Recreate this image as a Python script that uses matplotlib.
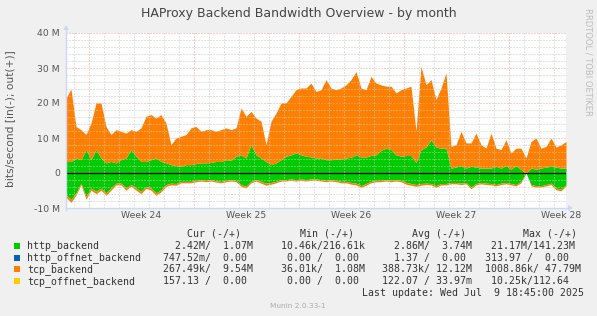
import numpy as np
import matplotlib
matplotlib.use("Agg")
import matplotlib.pyplot as plt
from matplotlib.patches import Rectangle, Polygon
from matplotlib.lines import Line2D

W, H, DPI = 597, 316, 100

# ---------------- data (Mbit/s, one sample every 8 hours) ----------------
# time in days relative to Monday of week 24 (2025-06-09)
t_start = -23 / 15.0
n = 101
t = t_start + np.arange(n) / 3.0

http_out = [3.3, 3.3, 4.3, 3.8, 6.7, 3.8, 6.7, 4.3, 2.9, 3.3, 2.9, 3.8, 4.3, 6.7, 4.8, 3.3, 3.3,
            3.8, 4.3, 3.3, 2.9, 2.4, 2.1, 1.9, 2.4, 2.4, 2.7, 2.9, 2.9, 3.0, 3.3, 3.3, 3.8, 3.6,
            4.8, 5.2, 4.3, 8.1, 5.2, 4.3, 3.3, 2.4, 2.9, 3.8, 4.8, 5.2, 5.7, 5.2, 4.8, 4.6, 4.3,
            4.3, 3.8, 3.8, 4.0, 4.0, 4.3, 4.5, 5.2, 4.6, 4.6, 5.0, 5.2, 6.5, 7.1, 6.7, 5.2, 4.8,
            5.0, 5.0, 3.0, 6.7, 7.4, 9.5, 7.4, 7.1, 7.1, 1.4, 1.7, 2.1, 1.4, 1.9, 1.7, 1.4, 1.4,
            1.4, 1.9, 1.4, 2.1, 1.1, 2.1, 1.0, 0.0, 1.4, 1.1, 1.4, 1.7, 1.9, 1.7, 1.4, 1.4]
tcp_out = [18.1, 20.7, 9.0, 8.6, 4.3, 10.5, 13.3, 15.7, 10.4, 7.7, 9.5, 8.1, 7.1, 5.7, 7.1, 9.6, 12.9,
           12.9, 11.4, 13.4, 11.4, 5.7, 7.9, 8.6, 8.6, 10.5, 10.6, 9.0, 9.5, 9.4, 8.6, 9.1, 9.1, 8.8,
           8.1, 13.4, 11.9, 9.5, 10.5, 10.5, 4.8, 12.4, 14.2, 16.2, 15.2, 16.7, 18.1, 19.1, 19.5, 21.1, 19.0,
           19.5, 22.9, 20.5, 19.8, 20.3, 20.9, 22.2, 23.8, 19.7, 19.2, 22.6, 20.5, 18.7, 17.7, 18.1, 17.7, 19.0,
           19.3, 19.8, 9.0, 23.8, 17.8, 17.2, 13.6, 17.2, 21.5, 6.2, 6.4, 9.8, 7.2, 6.7, 9.7, 6.7, 5.7,
           10.0, 5.2, 5.3, 7.4, 4.6, 5.0, 6.1, 4.3, 7.6, 8.9, 5.7, 5.9, 8.1, 5.7, 6.7, 7.6]
http_in = [6.2, 7.6, 5.7, 2.9, 6.7, 4.3, 5.2, 4.3, 5.7, 4.3, 2.9, 2.9, 4.3, 3.3, 4.3, 5.2, 3.8,
           4.3, 5.7, 4.8, 3.3, 2.9, 3.0, 2.4, 2.4, 2.4, 2.1, 1.9, 2.1, 1.9, 2.2, 2.4, 2.1, 1.9,
           2.1, 3.3, 3.8, 2.4, 1.9, 2.4, 2.9, 2.7, 2.4, 1.9, 1.9, 1.7, 1.9, 1.7, 1.9, 1.7, 1.7,
           1.9, 2.1, 1.9, 2.1, 2.4, 2.4, 2.7, 2.9, 3.6, 3.0, 2.4, 2.1, 2.1, 1.9, 2.1, 1.9, 2.1,
           2.7, 3.0, 3.3, 3.0, 2.9, 3.0, 3.6, 3.0, 3.0, 2.7, 2.7, 2.9, 2.7, 4.0, 3.0, 2.7, 2.9,
           3.0, 3.3, 2.9, 2.7, 3.0, 3.3, 2.4, 0.0, 3.3, 3.6, 3.6, 3.3, 2.9, 4.3, 4.6, 3.3]
tcp_in = [0.8, 0.8, 0.6, 0.5, 0.8, 0.6, 0.7, 0.6, 0.7, 0.6, 0.5, 0.5, 0.6, 0.5, 0.6, 0.7, 0.6,
          0.6, 0.7, 0.6, 0.5, 0.5, 0.5, 0.4, 0.4, 0.4, 0.4, 0.4, 0.4, 0.4, 0.4, 0.4, 0.4, 0.4,
          0.4, 0.5, 0.5, 0.4, 0.4, 0.5, 0.6, 0.5, 0.4, 0.4, 0.4, 0.4, 0.4, 0.4, 0.4, 0.4, 0.4,
          0.4, 0.4, 0.4, 0.4, 0.4, 0.4, 0.5, 0.5, 0.5, 0.5, 0.4, 0.4, 0.4, 0.4, 0.4, 0.4, 0.4,
          0.5, 0.5, 0.5, 0.5, 0.4, 0.4, 0.5, 0.4, 0.4, 0.4, 0.4, 0.4, 0.4, 0.5, 0.4, 0.4, 0.4,
          0.4, 0.4, 0.4, 0.4, 0.4, 0.4, 0.4, 0.0, 0.4, 0.4, 0.4, 0.4, 0.4, 0.5, 0.5, 0.4]
http_offnet_out = [0.0] * n
http_offnet_in = [0.0] * n
tcp_offnet_out = [0.0] * n
tcp_offnet_in = [0.0] * n

week_starts = [0, 7, 14, 21, 28]
week_labels = ["Week 24", "Week 25", "Week 26", "Week 27", "Week 28"]
y_ticks = [-10, 0, 10, 20, 30, 40]
y_labels = ["-10 M", "0", "10 M", "20 M", "30 M", "40 M"]

series_names = ["http_backend", "http_offnet_backend", "tcp_backend", "tcp_offnet_backend"]
series_colors = ["#00CC00", "#0066B3", "#FF8000", "#FFCC00"]
cur_vals = ["  2.42M/  1.07M", "747.52m/  0.00 ", "267.49k/  9.54M", "157.13 /  0.00 "]
min_vals = [" 10.46k/216.61k", "  0.00 /  0.00 ", " 36.01k/  1.08M", "  0.00 /  0.00 "]
avg_vals = ["  2.86M/  3.74M", "  1.37 /  0.00 ", "388.73k/ 12.12M", "122.07 / 33.97m"]
max_vals = [" 21.17M/141.23M", "313.97 /  0.00 ", "1008.86k/ 47.79M", " 10.25k/112.64 "]

title = "HAProxy Backend Bandwidth Overview - by month"
ylabel = "bits/second [in(-); out(+)]"
last_update = "Last update: Wed Jul  9 18:45:00 2025"

# ---------------- figure ----------------
BG = "#F0F0F0"
TXT = "#555555"
fig = plt.figure(figsize=(W / DPI, H / DPI), dpi=DPI, facecolor=BG)

def fx(x):
    return x / W

def fy(y):
    return 1 - y / H

X0, X1, YT, YB = 66, 566, 33, 208
ax = fig.add_axes([fx(X0), fy(YB), (X1 - X0) / W, (YB - YT) / H])
ax.set_facecolor("white")
for s in ax.spines.values():
    s.set_visible(False)

ax.set_xlim(t_start, t_start + (X1 - X0) / 15.0)
ax.set_ylim(-10, 40)

# stacked areas
ho = np.array(http_out); hoo = np.array(http_offnet_out)
to = np.array(tcp_out); too = np.array(tcp_offnet_out)
hi = np.array(http_in); hoi = np.array(http_offnet_in)
ti = np.array(tcp_in); toi = np.array(tcp_offnet_in)

pos = [ho, hoo, to, too]
neg = [hi, hoi, ti, toi]
base_p = np.zeros(n)
base_n = np.zeros(n)
for vals_p, vals_n, c in zip(pos, neg, series_colors):
    top = base_p + vals_p
    ax.fill_between(t, base_p, top, color=c, lw=0, zorder=2)
    base_p = top
    bot = base_n - vals_n
    ax.fill_between(t, bot, base_n, color=c, lw=0, zorder=2)
    base_n = bot

# grid (drawn on top like rrdtool)
days = np.arange(-1, 32)
for d in days:
    if d in week_starts:
        continue
    ax.axvline(d, color="#c8c8c8", lw=0.72, ls=(0, (1, 2)), zorder=3)
for v in np.arange(-10, 41, 2):
    if v % 10 == 0:
        continue
    ax.axhline(v, color="#c8c8c8", lw=0.72, ls=(0, (1, 2)), zorder=3)
for d in week_starts:
    ax.axvline(d, color="#f0a0a0", lw=0.72, ls=(0, (1, 2)), zorder=3)
for v in y_ticks:
    ax.axhline(v, color="#f0a0a0", lw=0.72, ls=(0, (1, 2)), zorder=3)
ax.axhline(0, color="black", lw=0.9, zorder=4)

ax.set_yticks(y_ticks, y_labels)
ax.set_xticks([w + 3.5 for w in week_starts], week_labels)
ax.tick_params(axis="both", length=0, labelsize=6.7, labelcolor=TXT)
ax.tick_params(axis="y", pad=4.3)
ax.tick_params(axis="x", pad=2.5)
ax.grid(False)

# axes lines with arrows
AX = "#CFD6F8"
fig.add_artist(Line2D([fx(X0), fx(570)], [fy(YB), fy(YB)], color=AX, lw=1.0))
fig.add_artist(Line2D([fx(X0), fx(X0)], [fy(YB + 2), fy(28)], color=AX, lw=1.0))
fig.add_artist(Polygon([[fx(568), fy(YB - 3)], [fx(568), fy(YB + 3)], [fx(573), fy(YB)]],
                       closed=True, transform=fig.transFigure, color=AX, lw=0))
fig.add_artist(Polygon([[fx(X0 - 3), fy(30)], [fx(X0 + 3), fy(30)], [fx(X0), fy(25)]],
                       closed=True, transform=fig.transFigure, color=AX, lw=0))

# texts
fig.text(0.5, fy(13), title, ha="center", va="center", fontsize=9, color="#444444")
fig.text(fx(10), fy(119), ylabel, ha="center", va="center", rotation=90, fontsize=7.7, color=TXT)
fig.text(fx(588), fy(8), "RRDTOOL / TOBI OETIKER", ha="center", va="top", rotation=270,
         fontsize=6.0, color="#bbbbbb")

MONO = "DejaVu Sans Mono"
FS = 7.1
LT = "#333333"
fig.text(fx(187), fy(234), "Cur (-/+)", ha="left", va="center", family=MONO, fontsize=FS, color=LT)
fig.text(fx(300), fy(234), "Min (-/+)", ha="left", va="center", family=MONO, fontsize=FS, color=LT)
fig.text(fx(411.5), fy(234), "Avg (-/+)", ha="left", va="center", family=MONO, fontsize=FS, color=LT)
fig.text(fx(523), fy(234), "Max (-/+)", ha="left", va="center", family=MONO, fontsize=FS, color=LT)

row_y = [245.7, 257.5, 269.4, 281.3]
for i in range(4):
    y = row_y[i]
    fig.add_artist(Rectangle((fx(14), fy(y + 3)), 6 / W, 6 / H, transform=fig.transFigure,
                             facecolor=series_colors[i], edgecolor="none"))
    fig.text(fx(27), fy(y), series_names[i], ha="left", va="center", family=MONO, fontsize=FS, color=LT)
    fig.text(fx(163.3), fy(y), cur_vals[i], ha="left", va="center", family=MONO, fontsize=FS, color=LT)
    fig.text(fx(275), fy(y), min_vals[i], ha="left", va="center", family=MONO, fontsize=FS, color=LT)
    fig.text(fx(381.5), fy(y), avg_vals[i], ha="left", va="center", family=MONO, fontsize=FS, color=LT)
    fig.text(fx(485), fy(y), max_vals[i], ha="left", va="center", family=MONO, fontsize=FS, color=LT)

fig.text(fx(583.5), fy(293), last_update, ha="right", va="center", family=MONO, fontsize=FS, color=LT)
fig.text(fx(298), fy(305.5), "Munin 2.0.33-1", ha="center", va="center", fontsize=5.3, color="#aaaaaa")

fig.savefig("out.png", dpi=DPI, facecolor=BG)
